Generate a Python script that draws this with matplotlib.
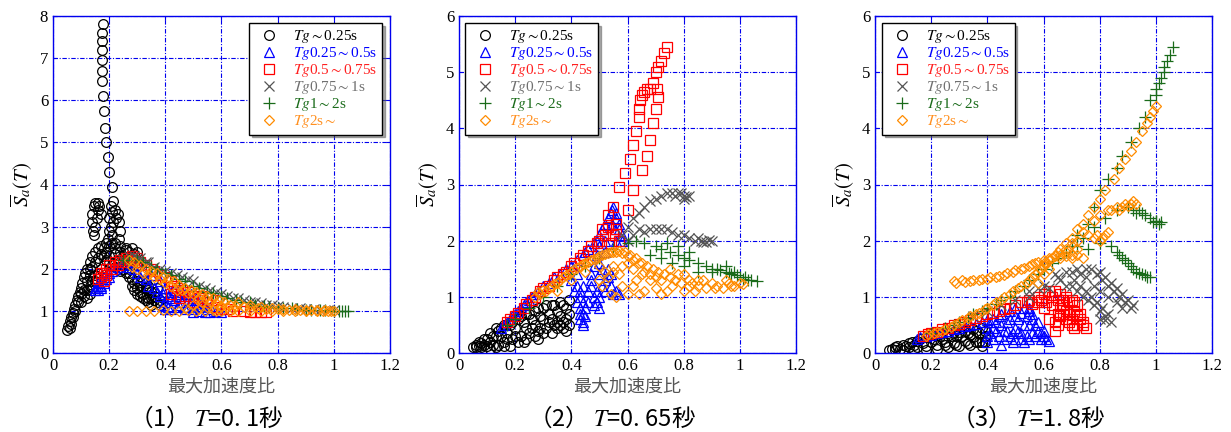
import matplotlib
matplotlib.use("Agg")
import matplotlib.pyplot as plt
from matplotlib.ticker import FuncFormatter

plt.rcParams['mathtext.fontset'] = 'stix'
plt.rcParams['font.family'] = ['Liberation Serif', 'Noto Sans CJK JP']

labels = [r'$Tg{\sim}$0.25s', r'$Tg$0.25${\sim}$0.5s', r'$Tg$0.5${\sim}$0.75s',
          r'$Tg$0.75${\sim}$1s', r'$Tg$1${\sim}$2s', r'$Tg$2s${\sim}$']
captions = ['（1） $T$=0. 1秒', '（2） $T$=0. 65秒', '（3） $T$=1. 8秒']
y_max = [8, 6, 6]

# ---- panel 1 : T=0.1s ----
p1_c = [(0.178, 7.8), (0.176, 7.6), (0.175, 7.4), (0.174, 7.2), (0.173, 6.95), (0.174, 6.7),
        (0.175, 6.45), (0.177, 6.1), (0.18, 5.75), (0.185, 5.35), (0.19, 5.0), (0.195, 4.65),
        (0.2, 4.3), (0.21, 3.95), (0.215, 3.6),
        (0.145, 3.5), (0.15, 3.55), (0.16, 3.55), (0.165, 3.5), (0.14, 3.3), (0.14, 3.1),
        (0.142, 2.9), (0.145, 2.8), (0.15, 3.0), (0.155, 3.2), (0.16, 3.4), (0.17, 3.3),
        (0.21, 3.35), (0.22, 3.4), (0.23, 3.3), (0.235, 3.1), (0.24, 2.9), (0.235, 2.7),
        (0.22, 2.6), (0.21, 2.8), (0.205, 3.0), (0.2, 3.2), (0.225, 3.2), (0.215, 3.1),
        (0.05, 0.55), (0.055, 0.65), (0.06, 0.75), (0.065, 0.85), (0.07, 0.95), (0.075, 1.05),
        (0.08, 1.15), (0.085, 1.25), (0.09, 1.35), (0.095, 1.45), (0.1, 1.55), (0.105, 1.65),
        (0.11, 1.8), (0.115, 1.9), (0.12, 2.0), (0.13, 2.15), (0.14, 2.3), (0.15, 2.4),
        (0.16, 2.5), (0.17, 2.55), (0.18, 2.5), (0.19, 2.4),
        (0.1, 1.2), (0.11, 1.35), (0.12, 1.5), (0.13, 1.6), (0.14, 1.7), (0.15, 1.85),
        (0.2, 2.3), (0.22, 2.35), (0.24, 2.4), (0.26, 2.45), (0.28, 2.5), (0.3, 2.4),
        (0.25, 2.1), (0.27, 2.0), (0.3, 2.1), (0.27, 1.9), (0.28, 1.75), (0.29, 1.65),
        (0.3, 1.55), (0.31, 1.45), (0.33, 1.55), (0.32, 1.4), (0.34, 1.3), (0.35, 1.3),
        (0.36, 1.25), (0.38, 1.25), (0.36, 1.45), (0.37, 1.55), (0.39, 1.3),
        (0.11, 1.5), (0.12, 1.7), (0.13, 1.85), (0.13, 2.0), (0.14, 2.05), (0.15, 2.15),
        (0.16, 2.25), (0.17, 2.35), (0.18, 2.3), (0.19, 2.2), (0.2, 2.15), (0.21, 2.1),
        (0.22, 2.05), (0.23, 2.0), (0.24, 1.95), (0.17, 2.0), (0.16, 1.9), (0.15, 1.7),
        (0.14, 1.55), (0.13, 1.4), (0.12, 1.3), (0.1, 1.4), (0.09, 1.2), (0.08, 1.0),
        (0.07, 0.85), (0.065, 0.7), (0.06, 0.6), (0.25, 2.0), (0.26, 1.9), (0.27, 1.8),
        (0.28, 1.6), (0.29, 1.5), (0.3, 1.4), (0.31, 1.35), (0.32, 1.3), (0.33, 1.25),
        (0.34, 1.2), (0.35, 1.15), (0.36, 1.35), (0.37, 1.2), (0.38, 1.15), (0.3, 1.7),
        (0.31, 1.6), (0.32, 1.7), (0.33, 1.65), (0.34, 1.5), (0.35, 1.45), (0.34, 1.6),
        (0.205, 3.5), (0.2, 2.9), (0.195, 2.7), (0.19, 2.6), (0.2, 2.55), (0.21, 2.6),
        (0.22, 2.5), (0.24, 2.55), (0.26, 2.5), (0.23, 2.2), (0.25, 2.3), (0.27, 2.4),
        (0.29, 2.35), (0.28, 2.2)]
p1_t = [(0.15, 1.55), (0.16, 1.6), (0.17, 1.7), (0.18, 1.8), (0.2, 1.9), (0.22, 2.0), (0.25, 2.1),
        (0.28, 2.15), (0.3, 2.1), (0.32, 1.95), (0.35, 1.85), (0.38, 1.7), (0.4, 1.55), (0.42, 1.45),
        (0.45, 1.35), (0.48, 1.25), (0.5, 1.15), (0.52, 1.1), (0.55, 1.05), (0.58, 1.0), (0.4, 1.2),
        (0.42, 1.3), (0.45, 1.5), (0.47, 1.4), (0.38, 1.35), (0.4, 1.05), (0.44, 1.1), (0.5, 1.3),
        (0.53, 1.2), (0.56, 0.97), (0.6, 0.97), (0.16, 1.5), (0.17, 1.55),
        (0.15, 1.5), (0.16, 1.65), (0.17, 1.6), (0.18, 1.65), (0.19, 1.75), (0.2, 1.8), (0.21, 1.95),
        (0.23, 2.05), (0.26, 2.15), (0.27, 2.05), (0.29, 2.0), (0.3, 1.9), (0.31, 1.8), (0.33, 1.75),
        (0.34, 1.6), (0.36, 1.55), (0.37, 1.45), (0.39, 1.4), (0.41, 1.35), (0.43, 1.25), (0.46, 1.2),
        (0.48, 1.1), (0.5, 1.05), (0.52, 1.0), (0.54, 0.98), (0.43, 1.5), (0.44, 1.4), (0.46, 1.45),
        (0.48, 1.35), (0.49, 1.4), (0.51, 1.3), (0.52, 1.25), (0.54, 1.15), (0.56, 1.1), (0.39, 1.15),
        (0.41, 1.1), (0.42, 1.05), (0.45, 1.15), (0.47, 1.05), (0.5, 0.98)]
p1_s = [(0.17, 1.8), (0.18, 1.9), (0.19, 2.0), (0.2, 2.1), (0.22, 2.15), (0.24, 2.2), (0.26, 2.25),
        (0.28, 2.3), (0.3, 2.25), (0.33, 2.1), (0.36, 1.95), (0.4, 1.8), (0.43, 1.6), (0.46, 1.5),
        (0.5, 1.35), (0.53, 1.25), (0.58, 1.1), (0.62, 1.05), (0.68, 1.0), (0.72, 0.98), (0.76, 0.97),
        (0.45, 1.3), (0.5, 1.2), (0.18, 1.7),
        (0.16, 1.75), (0.17, 1.9), (0.19, 1.85), (0.21, 2.0), (0.23, 2.1), (0.25, 2.15), (0.27, 2.2),
        (0.29, 2.2), (0.31, 2.15), (0.35, 2.0), (0.38, 1.85), (0.42, 1.7), (0.44, 1.55), (0.48, 1.45),
        (0.52, 1.3), (0.55, 1.2), (0.6, 1.05), (0.64, 1.0), (0.7, 0.98), (0.74, 0.97), (0.53, 1.35),
        (0.56, 1.3), (0.58, 1.25), (0.47, 1.35), (0.42, 1.4)]
p1_x = [(0.27, 2.3), (0.3, 2.25), (0.33, 2.15), (0.36, 2.05), (0.4, 1.95), (0.44, 1.85), (0.48, 1.75),
        (0.52, 1.6), (0.56, 1.5), (0.6, 1.4), (0.64, 1.3), (0.68, 1.25), (0.72, 1.2), (0.76, 1.15),
        (0.8, 1.12), (0.85, 1.08), (0.9, 1.05), (0.95, 1.03), (1.0, 1.02), (0.25, 2.2),
        (0.29, 2.3), (0.31, 2.25), (0.34, 2.15), (0.38, 2.0), (0.42, 1.9), (0.46, 1.8), (0.5, 1.7),
        (0.54, 1.55), (0.58, 1.45), (0.62, 1.35), (0.66, 1.3), (0.7, 1.22), (0.74, 1.18), (0.78, 1.13),
        (0.82, 1.1), (0.88, 1.06), (0.93, 1.04), (0.98, 1.02)]
p1_p = [(0.25, 2.2), (0.3, 2.2), (0.35, 2.05), (0.4, 1.9), (0.45, 1.75), (0.5, 1.6), (0.55, 1.45),
        (0.6, 1.35), (0.65, 1.25), (0.7, 1.2), (0.75, 1.12), (0.8, 1.08), (0.85, 1.06), (0.9, 1.03),
        (0.95, 1.02), (1.0, 1.0), (1.02, 1.0), (1.03, 1.0), (1.05, 1.0),
        (0.27, 2.2), (0.32, 2.15), (0.37, 2.0), (0.42, 1.85), (0.47, 1.7), (0.52, 1.55), (0.57, 1.42),
        (0.62, 1.3), (0.67, 1.22), (0.72, 1.15), (0.77, 1.1), (0.82, 1.07), (0.87, 1.05), (0.92, 1.03),
        (0.97, 1.01), (1.04, 1.0)]
p1_d = [(0.27, 2.2), (0.29, 2.15), (0.31, 2.1), (0.33, 2.0), (0.35, 1.95), (0.37, 1.9), (0.39, 1.8),
        (0.41, 1.75), (0.43, 1.7), (0.45, 1.62), (0.47, 1.55), (0.49, 1.5), (0.51, 1.45), (0.53, 1.4),
        (0.55, 1.35), (0.57, 1.3), (0.59, 1.25), (0.61, 1.2), (0.63, 1.15), (0.65, 1.12), (0.68, 1.1),
        (0.7, 1.08), (0.73, 1.06), (0.76, 1.05), (0.8, 1.04), (0.84, 1.03), (0.88, 1.02), (0.92, 1.01),
        (0.96, 1.0), (1.0, 1.0),
        (0.3, 2.0), (0.34, 1.85), (0.38, 1.75), (0.42, 1.6), (0.46, 1.5), (0.5, 1.4), (0.54, 1.3),
        (0.58, 1.18), (0.62, 1.1),
        (0.27, 1.0), (0.3, 1.0), (0.33, 1.0), (0.36, 1.0), (0.39, 1.02), (0.42, 1.0), (0.45, 1.0),
        (0.48, 1.02), (0.51, 1.0), (0.54, 1.0), (0.57, 1.02), (0.6, 1.0), (0.63, 1.0), (0.66, 1.0),
        (0.7, 1.0), (0.74, 1.0), (0.78, 1.0), (0.82, 1.0), (0.86, 1.0), (0.9, 1.0), (0.94, 1.0),
        (0.98, 1.0), (0.52, 1.05), (0.55, 1.1), (0.58, 1.0), (0.6, 1.1),
        (0.32, 1.9), (0.36, 1.8), (0.4, 1.65), (0.44, 1.5), (0.48, 1.42), (0.52, 1.3), (0.56, 1.2),
        (0.6, 1.12), (0.64, 1.05), (0.28, 2.05), (0.66, 1.2), (0.7, 1.15), (0.74, 1.1), (0.78, 1.08),
        (0.82, 1.05), (0.86, 1.05), (0.9, 1.03), (0.94, 1.02), (0.97, 1.02), (0.99, 1.0),
        (0.47, 1.08), (0.5, 1.15), (0.53, 1.2)]

# ---- panel 2 : T=0.65s ----
p2_c = [(0.05, 0.1), (0.06, 0.15), (0.07, 0.12), (0.08, 0.18), (0.09, 0.15), (0.1, 0.25), (0.1, 0.12),
        (0.12, 0.3), (0.12, 0.15), (0.14, 0.4), (0.14, 0.15), (0.15, 0.45), (0.16, 0.2), (0.17, 0.35),
        (0.18, 0.5), (0.19, 0.25), (0.2, 0.45), (0.21, 0.6), (0.22, 0.3), (0.23, 0.55), (0.24, 0.7),
        (0.25, 0.35), (0.26, 0.6), (0.27, 0.75), (0.28, 0.4), (0.29, 0.65), (0.3, 0.8), (0.31, 0.45),
        (0.32, 0.7), (0.33, 0.85), (0.34, 0.5), (0.35, 0.75), (0.36, 0.9), (0.37, 0.55), (0.38, 0.8),
        (0.38, 0.4), (0.39, 0.95), (0.37, 0.45), (0.35, 0.55), (0.08, 0.1), (0.13, 0.1), (0.18, 0.12),
        (0.23, 0.2), (0.28, 0.25), (0.33, 0.35), (0.3, 0.6), (0.26, 0.45),
        (0.06, 0.1), (0.07, 0.2), (0.09, 0.25), (0.11, 0.2), (0.11, 0.35), (0.13, 0.3), (0.13, 0.45),
        (0.15, 0.3), (0.16, 0.5), (0.17, 0.25), (0.19, 0.55), (0.2, 0.3), (0.22, 0.65), (0.24, 0.45),
        (0.25, 0.7), (0.27, 0.5), (0.28, 0.8), (0.29, 0.45), (0.31, 0.85), (0.32, 0.55), (0.34, 0.85),
        (0.35, 0.45), (0.36, 0.65), (0.37, 0.85), (0.38, 0.6), (0.39, 0.7), (0.39, 0.5), (0.36, 0.5),
        (0.33, 0.6), (0.3, 0.35), (0.27, 0.3), (0.24, 0.25), (0.21, 0.2), (0.16, 0.12), (0.11, 0.08)]
p2_t = [(0.15, 0.45), (0.17, 0.55), (0.2, 0.7), (0.23, 0.85), (0.26, 1.0), (0.3, 1.2), (0.34, 1.35),
        (0.38, 1.5), (0.42, 1.65), (0.45, 1.8), (0.48, 1.95), (0.5, 2.1), (0.52, 2.3), (0.54, 2.5),
        (0.55, 2.6), (0.56, 2.4), (0.57, 2.2), (0.58, 2.0), (0.56, 2.0), (0.52, 1.8), (0.5, 1.6),
        (0.47, 1.4), (0.44, 1.2), (0.43, 1.0), (0.43, 0.8), (0.43, 0.6), (0.44, 0.5), (0.45, 0.8),
        (0.46, 1.1), (0.47, 1.3), (0.48, 1.0), (0.49, 0.9), (0.5, 0.8), (0.51, 1.2), (0.5, 1.4),
        (0.53, 1.5), (0.52, 1.3), (0.54, 1.2), (0.55, 1.05), (0.4, 1.3), (0.42, 1.4), (0.41, 1.1),
        (0.42, 0.9), (0.44, 0.7),
        (0.16, 0.5), (0.18, 0.6), (0.19, 0.65), (0.21, 0.75), (0.22, 0.8), (0.24, 0.9), (0.25, 0.95),
        (0.27, 1.05), (0.28, 1.1), (0.32, 1.25), (0.36, 1.4), (0.4, 1.55), (0.44, 1.75), (0.46, 1.85),
        (0.49, 2.0), (0.51, 2.2), (0.53, 2.4), (0.545, 2.55), (0.56, 2.5), (0.57, 2.3), (0.58, 2.1),
        (0.555, 2.2), (0.545, 2.3), (0.52, 2.0), (0.5, 1.9), (0.49, 1.75), (0.51, 1.5), (0.48, 1.55),
        (0.47, 1.2), (0.46, 0.9), (0.45, 0.65), (0.48, 0.85), (0.49, 1.1), (0.5, 1.0), (0.52, 1.1),
        (0.53, 1.35), (0.54, 1.4), (0.56, 1.1), (0.57, 1.05), (0.42, 1.2), (0.43, 1.1), (0.44, 0.9),
        (0.43, 0.7), (0.44, 0.55)]
p2_s = [(0.53, 2.45), (0.55, 2.6), (0.57, 2.95), (0.59, 3.2), (0.61, 3.45), (0.62, 3.7), (0.63, 3.95),
        (0.64, 4.2), (0.64, 4.35), (0.645, 4.5), (0.65, 4.6), (0.66, 4.65), (0.67, 4.7), (0.68, 4.7),
        (0.69, 4.8), (0.7, 5.0), (0.71, 5.1), (0.72, 5.2), (0.73, 5.35), (0.74, 5.45),
        (0.56, 2.3), (0.6, 2.55), (0.62, 2.9), (0.65, 3.25), (0.67, 3.5), (0.68, 3.8), (0.69, 4.1),
        (0.7, 4.35), (0.71, 4.55), (0.705, 4.7),
        (0.17, 0.55), (0.2, 0.65), (0.23, 0.8), (0.26, 0.95), (0.29, 1.1), (0.32, 1.2), (0.35, 1.35),
        (0.38, 1.45), (0.41, 1.6), (0.44, 1.75), (0.47, 1.9), (0.5, 2.0), (0.51, 2.2), (0.53, 2.25),
        (0.55, 2.1), (0.56, 2.2), (0.57, 2.0), (0.54, 1.95),
        (0.18, 0.6), (0.21, 0.72), (0.24, 0.88), (0.27, 1.0), (0.3, 1.15), (0.34, 1.3), (0.37, 1.4),
        (0.4, 1.55), (0.43, 1.7), (0.46, 1.82), (0.49, 1.95), (0.52, 2.1)]
p2_x = [(0.58, 2.1), (0.6, 2.25), (0.62, 2.4), (0.64, 2.5), (0.66, 2.6), (0.68, 2.7), (0.7, 2.75),
        (0.72, 2.8), (0.74, 2.85), (0.76, 2.85), (0.78, 2.85), (0.8, 2.8), (0.82, 2.8), (0.8, 2.75),
        (0.6, 2.0), (0.62, 2.1), (0.64, 2.2), (0.66, 2.15), (0.68, 2.2), (0.7, 2.2), (0.72, 2.2),
        (0.74, 2.2), (0.76, 2.15), (0.78, 2.1), (0.8, 2.1), (0.82, 2.05), (0.84, 2.0), (0.86, 2.0),
        (0.88, 1.98), (0.9, 2.0), (0.85, 2.05), (0.77, 2.8), (0.79, 2.85), (0.81, 2.78), (0.87, 1.97),
        (0.89, 2.02)]
p2_p = [(0.17, 0.5), (0.2, 0.6), (0.25, 0.8), (0.3, 1.0), (0.35, 1.2), (0.4, 1.4), (0.45, 1.55),
        (0.5, 1.7), (0.55, 1.85), (0.6, 1.95), (0.63, 2.0), (0.66, 1.95), (0.7, 1.9), (0.72, 1.85),
        (0.75, 1.8), (0.78, 1.75), (0.8, 1.7), (0.82, 1.65), (0.85, 1.6), (0.88, 1.55), (0.9, 1.5),
        (0.92, 1.5), (0.95, 1.45), (0.97, 1.4), (1.0, 1.35), (1.02, 1.35), (1.04, 1.3), (1.06, 1.28),
        (0.68, 1.75), (0.72, 1.7), (0.76, 1.6), (0.8, 1.55), (0.85, 1.45), (0.9, 1.45), (0.95, 1.55),
        (0.98, 1.45), (0.74, 1.95), (0.78, 1.9), (0.82, 1.8), (0.93, 1.48), (0.96, 1.42), (0.99, 1.38),
        (1.01, 1.32), (1.03, 1.3)]
p2_d = [(0.27, 1.0), (0.29, 1.05), (0.31, 1.1), (0.33, 1.2), (0.35, 1.25), (0.37, 1.35), (0.39, 1.4),
        (0.41, 1.5), (0.43, 1.55), (0.45, 1.6), (0.47, 1.65), (0.49, 1.7), (0.51, 1.75), (0.53, 1.78),
        (0.55, 1.8), (0.57, 1.82), (0.59, 1.8), (0.61, 1.75), (0.63, 1.7), (0.65, 1.6), (0.67, 1.55),
        (0.69, 1.5), (0.71, 1.45), (0.73, 1.4), (0.75, 1.35), (0.77, 1.3), (0.79, 1.25), (0.82, 1.2),
        (0.85, 1.2), (0.88, 1.15), (0.91, 1.15), (0.94, 1.15), (0.97, 1.2), (1.0, 1.25), (0.9, 1.25),
        (0.95, 1.3),
        (0.5, 1.3), (0.52, 1.45), (0.55, 1.55), (0.57, 1.4), (0.58, 1.2), (0.6, 1.05), (0.62, 1.2),
        (0.64, 1.05), (0.66, 1.1), (0.68, 1.3), (0.7, 1.15), (0.72, 1.05), (0.74, 1.1), (0.76, 1.2),
        (0.8, 1.1), (0.84, 1.1), (0.82, 1.3), (0.62, 1.5), (0.65, 1.4), (0.7, 1.35), (0.75, 1.5),
        (0.8, 1.4), (0.85, 1.3), (0.35, 1.1), (0.4, 1.3), (0.45, 1.45), (0.5, 1.55),
        (0.28, 1.08), (0.3, 1.12), (0.32, 1.15), (0.34, 1.22), (0.36, 1.3), (0.38, 1.38), (0.4, 1.45),
        (0.42, 1.52), (0.44, 1.58), (0.46, 1.62), (0.48, 1.68), (0.5, 1.72), (0.52, 1.76), (0.54, 1.79),
        (0.56, 1.8), (0.58, 1.78), (0.6, 1.72), (0.62, 1.65), (0.64, 1.6), (0.6, 1.6), (0.58, 1.55),
        (0.55, 1.45), (0.53, 1.35), (0.51, 1.2), (0.54, 1.05), (0.56, 1.0), (0.63, 1.3), (0.66, 1.45),
        (0.68, 1.4), (0.72, 1.3), (0.78, 1.4), (0.83, 1.25), (0.87, 1.3), (0.92, 1.2), (0.96, 1.25),
        (0.98, 1.2), (1.01, 1.22)]

# ---- panel 3 : T=1.8s ----
p3_c = [(0.05, 0.05), (0.07, 0.1), (0.09, 0.07), (0.1, 0.15), (0.12, 0.1), (0.13, 0.2), (0.15, 0.1),
        (0.16, 0.25), (0.18, 0.12), (0.19, 0.3), (0.2, 0.2), (0.22, 0.15), (0.23, 0.3), (0.25, 0.2),
        (0.26, 0.35), (0.28, 0.18), (0.29, 0.3), (0.3, 0.38), (0.32, 0.22), (0.33, 0.35), (0.35, 0.28),
        (0.36, 0.4), (0.37, 0.2), (0.38, 0.45), (0.39, 0.3), (0.07, 0.05), (0.1, 0.05), (0.14, 0.05),
        (0.18, 0.05), (0.22, 0.08), (0.26, 0.1), (0.3, 0.12), (0.34, 0.15), (0.38, 0.2),
        (0.06, 0.08), (0.08, 0.12), (0.11, 0.12), (0.12, 0.18), (0.14, 0.15), (0.15, 0.22),
        (0.17, 0.18), (0.18, 0.28), (0.21, 0.25), (0.22, 0.32), (0.24, 0.25), (0.25, 0.15),
        (0.27, 0.3), (0.28, 0.38), (0.29, 0.15), (0.31, 0.3), (0.32, 0.4), (0.33, 0.18), (0.34, 0.32),
        (0.35, 0.42), (0.36, 0.2), (0.37, 0.35), (0.39, 0.4), (0.38, 0.12), (0.39, 0.2)]
p3_t = [(0.15, 0.25), (0.18, 0.3), (0.22, 0.35), (0.26, 0.4), (0.3, 0.45), (0.34, 0.5), (0.38, 0.55),
        (0.42, 0.6), (0.45, 0.7), (0.48, 0.75), (0.5, 0.8), (0.53, 0.8), (0.55, 0.75), (0.4, 0.2),
        (0.41, 0.35), (0.42, 0.45), (0.44, 0.3), (0.45, 0.15), (0.46, 0.4), (0.47, 0.55), (0.48, 0.3),
        (0.49, 0.2), (0.5, 0.45), (0.51, 0.6), (0.52, 0.35), (0.53, 0.2), (0.55, 0.5), (0.56, 0.35),
        (0.57, 0.5), (0.58, 0.4), (0.6, 0.3), (0.62, 0.22), (0.59, 0.25), (0.54, 0.65), (0.44, 0.65),
        (0.4, 0.3), (0.4, 0.45), (0.41, 0.55), (0.42, 0.25), (0.43, 0.4), (0.43, 0.55), (0.45, 0.5),
        (0.46, 0.25), (0.47, 0.4), (0.48, 0.6), (0.49, 0.35), (0.5, 0.25), (0.5, 0.65), (0.51, 0.4),
        (0.52, 0.25), (0.53, 0.5), (0.54, 0.3), (0.55, 0.25), (0.56, 0.6), (0.57, 0.3), (0.58, 0.55),
        (0.59, 0.35), (0.6, 0.4), (0.61, 0.25), (0.52, 0.72), (0.55, 0.8), (0.56, 0.7),
        (0.16, 0.28), (0.2, 0.32), (0.24, 0.38), (0.28, 0.42), (0.32, 0.48), (0.36, 0.52), (0.4, 0.58)]
p3_s = [(0.17, 0.3), (0.2, 0.35), (0.24, 0.42), (0.28, 0.5), (0.32, 0.55), (0.36, 0.62), (0.4, 0.7),
        (0.44, 0.75), (0.48, 0.8), (0.52, 0.9), (0.55, 0.95), (0.58, 1.0), (0.6, 1.05), (0.62, 1.1),
        (0.64, 1.1), (0.66, 1.05), (0.68, 1.0), (0.7, 0.95), (0.72, 0.85), (0.73, 0.7), (0.74, 0.55),
        (0.75, 0.45), (0.72, 0.5), (0.7, 0.6), (0.68, 0.75), (0.66, 0.65), (0.65, 0.5), (0.64, 0.4),
        (0.62, 0.6), (0.6, 0.8), (0.58, 0.9), (0.63, 0.85), (0.67, 0.85), (0.69, 0.7), (0.71, 0.75),
        (0.19, 0.33), (0.22, 0.38), (0.26, 0.45), (0.3, 0.52), (0.34, 0.58), (0.38, 0.65), (0.42, 0.72),
        (0.46, 0.78), (0.5, 0.85), (0.54, 0.9), (0.56, 0.88), (0.59, 0.95), (0.61, 0.9), (0.63, 1.0),
        (0.65, 0.95), (0.67, 0.95), (0.69, 0.9), (0.71, 0.9), (0.72, 0.65), (0.73, 0.6), (0.74, 0.5),
        (0.66, 0.8), (0.67, 0.7), (0.68, 0.6), (0.69, 0.55), (0.7, 0.5), (0.71, 0.45), (0.65, 0.7),
        (0.64, 0.55)]
p3_x = [(0.55, 1.0), (0.6, 1.2), (0.65, 1.35), (0.7, 1.45), (0.75, 1.5), (0.8, 1.45), (0.82, 1.35),
        (0.84, 1.25), (0.86, 1.15), (0.88, 1.05), (0.9, 0.95), (0.92, 0.85), (0.7, 1.2), (0.72, 1.1),
        (0.74, 1.0), (0.76, 0.95), (0.78, 0.85), (0.8, 0.75), (0.82, 0.65), (0.84, 0.55), (0.66, 1.3),
        (0.68, 1.2), (0.62, 1.15), (0.78, 1.2), (0.8, 1.1), (0.83, 1.0), (0.86, 0.9), (0.88, 0.8),
        (0.75, 1.35), (0.73, 1.4), (0.4, 0.75), (0.45, 0.85), (0.5, 0.95),
        (0.35, 0.65), (0.55, 1.1), (0.58, 1.15), (0.64, 1.4), (0.68, 1.45), (0.72, 1.5), (0.77, 1.5),
        (0.79, 1.4), (0.81, 1.3), (0.83, 1.2), (0.85, 1.1), (0.87, 1.0), (0.89, 0.9), (0.91, 0.8),
        (0.71, 1.3), (0.73, 1.2), (0.75, 1.1), (0.77, 1.0), (0.79, 0.9), (0.81, 0.8), (0.83, 0.7),
        (0.8, 0.6), (0.82, 0.58)]
p3_p = [(0.25, 0.45), (0.3, 0.55), (0.35, 0.7), (0.4, 0.8), (0.45, 0.95), (0.5, 1.1), (0.55, 1.3),
        (0.6, 1.5), (0.65, 1.7), (0.7, 1.9), (0.72, 2.1), (0.76, 2.3), (0.78, 2.6), (0.8, 2.9),
        (0.83, 3.1), (0.86, 3.3), (0.88, 3.5), (0.91, 3.75), (0.94, 4.0), (0.96, 4.2), (0.98, 4.5),
        (1.0, 4.6), (1.01, 4.8), (1.03, 5.0), (1.04, 5.2), (1.05, 5.3), (1.06, 5.45), (0.82, 2.4),
        (0.86, 2.55), (0.9, 2.6), (0.94, 2.55), (0.96, 2.45), (0.98, 2.4), (1.0, 2.35), (1.02, 2.33),
        (0.72, 1.9), (0.76, 1.85), (0.8, 1.95), (0.84, 1.9), (0.86, 1.8), (0.88, 1.7), (0.9, 1.6),
        (0.92, 1.5), (0.94, 1.42), (0.96, 1.38), (0.98, 1.35), (0.74, 2.05), (0.78, 2.25),
        (0.2, 0.35), (0.28, 0.5), (0.33, 0.62), (0.38, 0.75), (0.43, 0.88), (0.48, 1.0), (0.53, 1.2),
        (0.58, 1.4), (0.63, 1.6), (0.68, 1.8), (1.0, 2.35), (1.01, 2.3), (0.99, 2.33), (0.92, 2.55),
        (0.93, 2.5), (0.95, 2.5), (0.97, 1.35), (0.95, 1.4), (0.93, 1.45), (0.91, 1.55), (0.89, 1.65),
        (0.87, 1.75), (1.02, 4.9), (1.0, 4.7), (1.03, 5.1)]
p3_d = [(0.18, 0.3), (0.21, 0.35), (0.24, 0.4), (0.27, 0.47), (0.3, 0.55), (0.33, 0.62), (0.36, 0.7),
        (0.39, 0.78), (0.42, 0.86), (0.45, 0.95), (0.48, 1.05), (0.51, 1.15), (0.54, 1.25), (0.56, 1.35),
        (0.58, 1.45), (0.6, 1.55), (0.62, 1.65), (0.64, 1.75), (0.66, 1.85), (0.68, 1.95), (0.7, 2.05),
        (0.72, 2.2), (0.74, 2.3), (0.76, 2.45), (0.78, 2.6), (0.8, 2.75), (0.82, 2.9), (0.85, 3.1),
        (0.87, 3.3), (0.89, 3.45), (0.91, 3.6), (0.93, 3.75), (0.95, 3.95), (0.97, 4.1), (0.98, 4.2),
        (0.99, 4.3), (1.0, 4.4),
        (0.28, 1.28), (0.31, 1.3), (0.34, 1.28), (0.37, 1.3), (0.4, 1.32), (0.43, 1.35), (0.46, 1.38),
        (0.49, 1.45), (0.52, 1.5), (0.55, 1.55), (0.57, 1.6),
        (0.8, 2.45), (0.83, 2.55), (0.86, 2.6), (0.88, 2.6), (0.9, 2.62), (0.92, 2.7), (0.76, 2.1),
        (0.78, 2.05), (0.8, 2.0), (0.82, 2.1), (0.72, 1.85), (0.7, 1.75), (0.68, 1.8), (0.66, 1.7),
        (0.6, 1.6), (0.62, 1.5), (0.58, 1.25), (0.6, 1.4),
        (0.19, 0.33), (0.22, 0.38), (0.25, 0.43), (0.28, 0.5), (0.31, 0.58), (0.34, 0.65), (0.37, 0.72),
        (0.4, 0.8), (0.43, 0.9), (0.46, 1.0), (0.49, 1.1), (0.52, 1.2), (0.55, 1.3), (0.57, 1.4),
        (0.59, 1.5), (0.61, 1.6), (0.63, 1.7), (0.65, 1.8), (0.29, 1.25), (0.32, 1.27), (0.35, 1.3),
        (0.38, 1.32), (0.41, 1.35), (0.44, 1.37), (0.47, 1.42), (0.5, 1.48), (0.53, 1.52), (0.56, 1.58),
        (0.58, 1.62), (0.6, 1.65), (0.62, 1.7), (0.64, 1.72), (0.66, 1.75), (0.68, 1.72), (0.7, 1.7),
        (0.72, 1.75), (0.74, 1.7), (0.79, 2.1), (0.81, 2.05), (0.83, 2.15), (0.84, 2.55), (0.87, 2.55),
        (0.89, 2.65), (0.91, 2.65), (0.93, 2.65), (0.78, 2.35), (0.74, 2.15), (0.72, 2.0), (0.7, 1.95),
        (0.68, 1.85)]

panels = [[p1_c, p1_t, p1_s, p1_x, p1_p, p1_d],
          [p2_c, p2_t, p2_s, p2_x, p2_p, p2_d],
          [p3_c, p3_t, p3_s, p3_x, p3_p, p3_d]]

markers = ['o', '^', 's', 'x', '+', 'D']
sizes = [7, 6.5, 7.5, 7, 8, 5.5]
colors = ['#000000', '#0000ff', '#ff0000', '#555555', '#1a6b1a', '#ff8c00']
text_colors = ['#000000', '#0000ff', '#ff2020', '#707070', '#1a6b1a', '#ff9020']
blue = '#0000ee'

fig = plt.figure(figsize=(12.31, 4.32), dpi=100)
lefts = [53 / 1231, 459 / 1231, 875 / 1231]
legend_anchor = [((0.976, 0.978), 'upper right'), ((0.018, 0.978), 'upper left'), ((0.02, 0.978), 'upper left')]

for i, series in enumerate(panels):
    ax = fig.add_axes([lefts[i], 1 - 353 / 432, 337 / 1231, 337 / 432])
    handles = []
    for k, pts in enumerate(series):
        xs = [p[0] for p in pts]
        ys = [p[1] for p in pts]
        h, = ax.plot(xs, ys, linestyle='none', marker=markers[k], markersize=sizes[k],
                     markerfacecolor='none', markeredgecolor=colors[k], markeredgewidth=0.9,
                     label=labels[k])
        handles.append(h)
    ax.set_xlim(0, 1.2)
    ax.set_ylim(0, y_max[i])
    ax.set_xticks([0, 0.2, 0.4, 0.6, 0.8, 1.0, 1.2])
    ax.set_yticks(range(0, y_max[i] + 1))
    ax.xaxis.set_major_formatter(FuncFormatter(lambda v, p: '%g' % v))
    ax.grid(True, color=blue, linestyle=(0, (4, 1.5, 1, 1.5)), linewidth=0.8)
    for sp in ax.spines.values():
        sp.set_color(blue)
        sp.set_linewidth(1.0)
    ax.tick_params(direction='in', color=blue, labelsize=12, top=True, right=True, length=3)
    ax.set_xlabel('最大加速度比', family=['Noto Sans CJK JP'], fontsize=13, color='#555555', labelpad=3)
    ax.set_ylabel(r'$\overline{S}_a(T)$', fontsize=15, labelpad=4)

    anchor, loc = legend_anchor[i]
    leg = ax.legend(handles=handles, loc=loc, bbox_to_anchor=anchor, fontsize=11,
                    frameon=True, fancybox=False, edgecolor='black', framealpha=1,
                    shadow={'color': '0.35', 'ox': 2, 'oy': -2}, borderaxespad=0,
                    handlelength=2.0, handletextpad=0.6, labelspacing=0.0, borderpad=0.3)
    leg.get_frame().set_linewidth(1.0)
    for t, c in zip(leg.get_texts(), text_colors):
        t.set_color(c)

    fig.text(lefts[i] + 153 / 1231, 1 - 417 / 432, captions[i], ha='center', va='center',
             family=['Noto Sans CJK JP'], fontsize=17)

fig.savefig('out.png', dpi=100)
